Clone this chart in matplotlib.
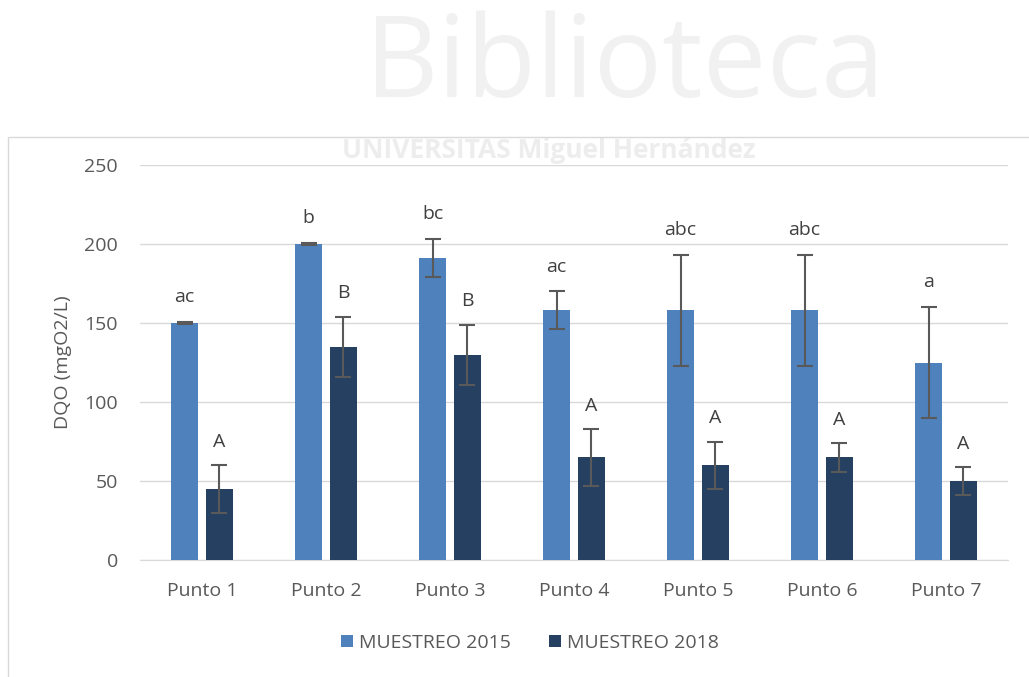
import matplotlib.pyplot as plt
from matplotlib.patches import Rectangle
import numpy as np

plt.rcParams['font.family'] = ['Open Sans', 'DejaVu Sans']

puntos = ['Punto 1', 'Punto 2', 'Punto 3', 'Punto 4', 'Punto 5', 'Punto 6', 'Punto 7']
m2015 = [150, 200, 191, 158, 158, 158, 125]
e2015 = [0.5, 0.5, 12, 12, 35, 35, 35]
m2018 = [45, 135, 130, 65, 60, 65, 50]
e2018 = [15, 19, 19, 18, 15, 9, 9]
letras2015 = ['ac', 'b', 'bc', 'ac', 'abc', 'abc', 'a']
letras2018 = ['A', 'B', 'B', 'A', 'A', 'A', 'A']

gris = '#595959'
fig = plt.figure(figsize=(10.29, 6.77), dpi=100)

# marca de agua de la biblioteca
fig.text(0.607, 1 - 97 / 677, 'Biblioteca', fontsize=82, color='#f1f1f1', ha='center',
         va='baseline', zorder=0)
fig.text(0.533, 1 - 150 / 677, 'UNIVERSITAS Miguel Hernández', fontsize=19, color='#ededed',
         ha='center', va='center', fontweight='bold', zorder=0)

# borde del cuadro del gráfico (cortado a derecha y abajo)
fig.add_artist(Rectangle((8 / 1029, -0.1), 1.2, 1 - 137 / 677 + 0.1, transform=fig.transFigure,
                         fill=False, edgecolor='#d9d9d9', linewidth=1.0))

ax = fig.add_axes([140 / 1029, 1 - 560 / 677, 868 / 1029, 395 / 677])
ax.patch.set_alpha(0)

x = np.arange(len(puntos))
w = 0.225
d = 0.141
err_kw = dict(ecolor=gris, elinewidth=1.5, capsize=5.5, capthick=1.5)
ax.bar(x - d, m2015, w, yerr=e2015, color='#4f81bd', label='MUESTREO 2015', error_kw=err_kw, zorder=3)
ax.bar(x + d, m2018, w, yerr=e2018, color='#264061', label='MUESTREO 2018', error_kw=err_kw, zorder=3)

for i in range(len(puntos)):
    ax.text(x[i] - d, m2015[i] + e2015[i] + 10, letras2015[i], ha='center', va='bottom',
            fontsize=14, color='#404040')
    ax.text(x[i] + d, m2018[i] + e2018[i] + 9, letras2018[i], ha='center', va='bottom',
            fontsize=14, color='#404040')

ax.set_xlim(-0.5, len(puntos) - 0.5)
ax.set_ylim(0, 250)
ax.set_yticks([0, 50, 100, 150, 200, 250])
ax.set_xticks(x)
ax.set_xticklabels(puntos)
ax.tick_params(axis='both', length=0, labelsize=14, colors=gris)
ax.tick_params(axis='x', pad=16)
ax.tick_params(axis='y', pad=16)
ax.grid(axis='y', color='#d9d9d9', linewidth=1.0, zorder=0)
for s in ['top', 'right', 'left']:
    ax.spines[s].set_visible(False)
ax.spines['bottom'].set_color('#d9d9d9')
ax.set_ylabel('DQO (mgO2/L)', fontsize=14, color=gris)
ax.yaxis.set_label_coords(-0.078, 0.5)

leg = fig.legend(loc='center', bbox_to_anchor=(530 / 1029, 1 - 643 / 677), ncol=2, frameon=False,
                 fontsize=14, handlelength=0.6, handleheight=0.6, handletextpad=0.3,
                 columnspacing=2.0)
for t in leg.get_texts():
    t.set_color(gris)

fig.savefig('out.png', dpi=100)
